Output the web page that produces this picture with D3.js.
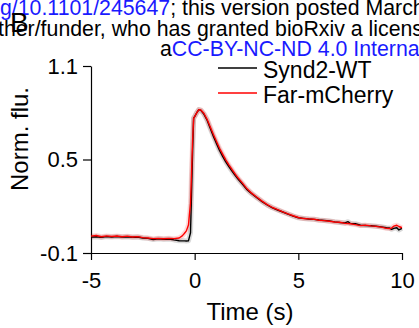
<!DOCTYPE html>
<html>
<head>
<meta charset="utf-8">
<script src="https://cdn.jsdelivr.net/npm/d3@7"></script>
<style>
  html, body { margin: 0; padding: 0; background: #fff; }
  svg { display: block; font-family: "Liberation Sans", Arial, sans-serif; }
</style>
</head>
<body>
<svg id="chart" width="419" height="328"></svg>
<script>
// ---- data ----
const time = [
  -5, -4.75, -4.5, -4.25, -4, -3.75, -3.5, -3.25, -3, -2.75, -2.5, -2.25, -2, -1.75, -1.5, -1.25, -1, -0.75, -0.6,
  -0.5, -0.4, -0.3, -0.2, -0.1, -0.05, 0.0, 0.1,
  0.2, 0.3, 0.45, 0.6, 0.75, 0.9, 1.05, 1.2, 1.35, 1.5, 1.65, 1.8, 1.95, 2.1, 2.3, 2.5, 2.75,
  3.0, 3.25, 3.5, 3.75, 4.0, 4.25, 4.5, 4.75,
  5.0, 5.25, 5.5, 5.75, 6.0, 6.25, 6.5, 6.75, 7.0, 7.25, 7.4, 7.5, 7.75, 8.0, 8.25, 8.5, 8.75, 9.0, 9.25, 9.4, 9.5, 9.6, 9.75, 9.85, 10.0
];
const synd2WT = [
  0.002, 0.004, 0.000, 0.005, 0.003, 0.006, 0.002, 0.004, 0.001, 0.003, -0.004, -0.006, -0.014, -0.009, -0.012, -0.010, -0.016, -0.021, -0.022,
  -0.022, -0.023, -0.022, 0.03, 0.55, 0.765, 0.775, 0.80,
  0.82, 0.815, 0.79, 0.752, 0.70, 0.65, 0.603, 0.558, 0.52, 0.485, 0.455, 0.425, 0.398, 0.373, 0.342, 0.31, 0.28,
  0.255, 0.23, 0.208, 0.19, 0.176, 0.163, 0.15, 0.137,
  0.126, 0.122, 0.118, 0.116, 0.112, 0.109, 0.106, 0.100, 0.096, 0.093, 0.101, 0.090, 0.088, 0.078, 0.076, 0.075, 0.072, 0.068, 0.062, 0.060, 0.052, 0.058, 0.062, 0.048, 0.058
];
const farMCherry = [
  0.008, 0.012, 0.004, 0.010, 0.006, 0.009, 0.004, 0.008, 0.003, 0.005, -0.001, -0.004, -0.008, -0.006, -0.009, -0.006, -0.008, -0.004, 0.010,
  0.025, 0.042, 0.08, 0.22, 0.62, 0.765, 0.775, 0.80,
  0.82, 0.818, 0.795, 0.758, 0.71, 0.662, 0.617, 0.572, 0.535, 0.498, 0.466, 0.436, 0.408, 0.381, 0.35, 0.316, 0.284,
  0.258, 0.233, 0.21, 0.192, 0.178, 0.164, 0.151, 0.139,
  0.128, 0.121, 0.119, 0.117, 0.110, 0.108, 0.104, 0.099, 0.097, 0.090, 0.089, 0.088, 0.082, 0.076, 0.079, 0.074, 0.071, 0.066, 0.058, 0.057, 0.060, 0.072, 0.078, 0.070, 0.062
];
const seriesNames = ["Synd2-WT", "Far-mCherry"];
const seriesColors = ["#000000", "#ff0000"];
const xTicks = [-5, 0, 5, 10];
const xTickLabels = ["-5", "0", "5", "10"];
const yTicks = [-0.1, 0.5, 1.1];
const yTickLabels = ["-0.1", "0.5", "1.1"];
const xTitle = "Time (s)";
const yTitle = "Norm. flu.";
const panelLabel = "B";
const headerLine1 = [["g/10.1101/245647", "#1a1aff"], ["; this version posted March", "#000"]];
const headerLine2 = [["ther/funder, who has granted bioRxiv a licens", "#000"]];
const headerLine3 = [["a", "#000"], ["CC-BY-NC-ND 4.0 Interna", "#1a1aff"]];

// ---- chart ----
const svg = d3.select("#chart");
const x = d3.scaleLinear().domain([-5, 10]).range([91, 402]);
const y = d3.scaleLinear().domain([-0.1, 1.1]).range([253, 66]);

// header (watermark text)
function header(parts, xPos, yPos) {
  const t = svg.append("text").attr("x", xPos).attr("y", yPos).attr("font-size", 21.3);
  parts.forEach(p => t.append("tspan").attr("fill", p[1]).text(p[0]));
}
header(headerLine1, 0, 15);
header(headerLine2, -2, 36);
header(headerLine3, 160, 56);

svg.append("text").attr("x", 10).attr("y", 32).attr("font-size", 28).attr("fill", "#000").text(panelLabel);

// axes
const xAxis = d3.axisBottom(x).tickValues(xTicks).tickFormat((d, i) => xTickLabels[i])
  .tickSizeInner(7).tickSizeOuter(0).tickPadding(12);
const yAxis = d3.axisLeft(y).tickValues(yTicks).tickFormat((d, i) => yTickLabels[i])
  .tickSizeInner(8).tickSizeOuter(0).tickPadding(5);

const gx = svg.append("g").attr("transform", `translate(0,${y(-0.1)})`).call(xAxis);
const gy = svg.append("g").attr("transform", `translate(${x(-5)},0)`).call(yAxis);
[gx, gy].forEach(g => {
  g.select(".domain").attr("stroke", "#000").attr("stroke-width", 1.2);
  g.selectAll(".tick line").attr("stroke", "#000").attr("stroke-width", 1.2);
  g.selectAll(".tick text").attr("fill", "#000").attr("font-size", 22)
    .attr("font-family", "'Liberation Sans', Arial, sans-serif");
});

// titles
svg.append("text").attr("x", 250).attr("y", 320).attr("text-anchor", "middle")
  .attr("font-size", 24).attr("fill", "#000").text(xTitle);
svg.append("text").attr("transform", "translate(28,139) rotate(-90)").attr("text-anchor", "middle")
  .attr("font-size", 24).attr("fill", "#000").text(yTitle);

// lines
const line = d3.line().x((d, i) => x(time[i])).y(d => y(d));
const allSeries = [synd2WT, farMCherry];
allSeries.forEach((s, k) => {
  svg.append("path").datum(s).attr("d", line).attr("fill", "none")
    .attr("stroke", seriesColors[k]).attr("stroke-opacity", 0.15)
    .attr("stroke-width", 5).attr("stroke-linejoin", "round");
});
allSeries.forEach((s, k) => {
  svg.append("path").datum(s).attr("d", line).attr("fill", "none")
    .attr("stroke", seriesColors[k]).attr("stroke-width", 1.4)
    .attr("stroke-linejoin", "round");
});

// legend
const legend = svg.append("g");
seriesNames.forEach((name, k) => {
  const ly = 68 + k * 25;
  legend.append("line").attr("x1", 218).attr("x2", 257).attr("y1", ly).attr("y2", ly)
    .attr("stroke", seriesColors[k]).attr("stroke-width", 1.4);
  legend.append("text").attr("x", 263).attr("y", ly + 10).attr("font-size", 23)
    .attr("fill", "#000").text(name);
});
</script>
</body>
</html>
